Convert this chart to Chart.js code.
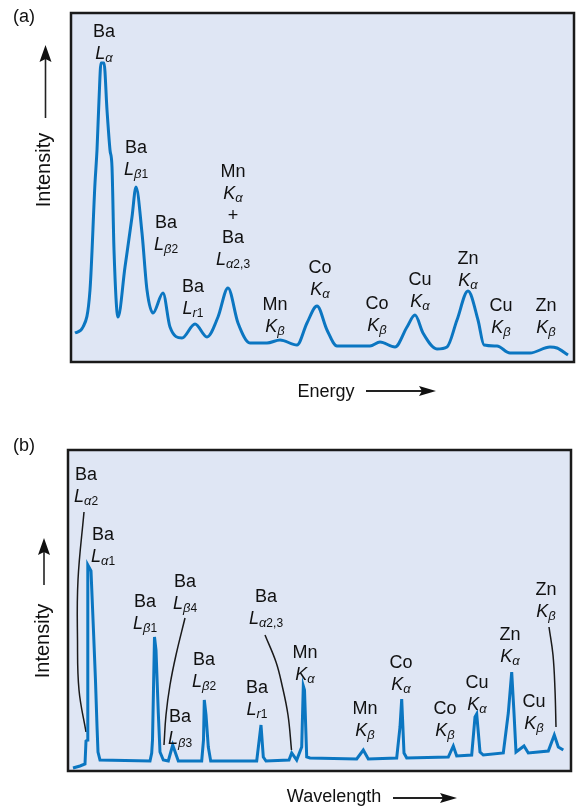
<!DOCTYPE html>
<html>
<head>
<meta charset="utf-8">
<script src="https://cdn.jsdelivr.net/npm/chart.js@4.4.0/dist/chart.umd.min.js"></script>
<style>
body{margin:0;background:#fff;width:582px;height:808px;overflow:hidden;position:relative}
canvas{position:absolute;left:0}
#chartA{top:0}
#chartB{top:420px}
</style>
</head>
<body>
<canvas id="chartA" width="582" height="410"></canvas>
<canvas id="chartB" width="582" height="388"></canvas>
<script>
// (a) energy spectrum (arbitrary units)
const energyX=[4,12,19,24,26,28,30,33,36,39,41,43,47,54,61,65,71,76,82,92,99,111,124,136,147,157,167,179,196,209,226,236,246,256,266,299,309,324,336,344,352,366,376,386,397,407,413,426,439,459,479,486,497];
const energyY=[29,35,72,179,212,262,299,299,252,212,195,112,45,95,145,175,129,72,49,69,35,24,38,25,45,74,39,19,19,22,17,39,56,32,16,16,20,15,35,47,29,13,15,42,71,42,17,16,9,9,15,14,7];

// (b) wavelength spectrum
const waveX=[5,12,17,18,19.5,19.8,23,25.5,27.5,29,30,32,82,83.7,84.5,86.5,88,90.3,92,95.3,100.3,104.7,110.3,133.7,135.5,136.3,138,140.3,142.7,188.7,193,195.3,198,221,223.7,228.7,233.7,235.3,236.5,238.7,242,288.7,295.3,300.3,328.7,332,333.7,336,338.7,380.3,385.3,388.7,403.7,407,408.7,412,415.3,435.3,440.3,443.7,446,448,456,460.3,480.3,486.3,490.3,495.3];
const waveY=[3,5,7,30,31,206,200,140,90,45,19,11,10,18,31,134,121,58,19,11,10,26,10,10,31,71,56,24,10,10,46,14,10,11,18,11,24,85,81,14,13,12,21,12,13,44,72,18,13,14,25,15,16,54,57,19,16,18,58,99,58,19,25,18,20,36,24,21];

// peak labels
const labelsA=[['Ba','L_α'],['Ba','L_β1'],['Ba','L_β2'],['Ba','L_r1'],['Mn','K_α','+','Ba','L_α2,3'],['Mn','K_β'],['Co','K_α'],['Co','K_β'],['Cu','K_α'],['Zn','K_α'],['Cu','K_β'],['Zn','K_β']];
const labelAtA=[[33,325],[65,209],[95,134],[122,70],[162,185],[204,52],[249,89],[306,53],[349,77],[397,98],[430,51],[475,51]];
const labelsB=[['Ba','L_α2'],['Ba','L_α1'],['Ba','L_β1'],['Ba','L_β4'],['Ba','L_β3'],['Ba','L_β2'],['Ba','L_α2,3'],['Ba','L_r1'],['Mn','K_α'],['Mn','K_β'],['Co','K_α'],['Co','K_β'],['Cu','K_α'],['Zn','K_α'],['Cu','K_β'],['Zn','K_β']];
const labelAtB=[[18,291],[35,231],[77,164],[117,184],[112,49],[136,106],[198,169],[189,78],[237,113],[297,57],[333,103],[377,57],[409,83],[442,131],[466,64],[478,176]];

// leader lines in (b)
const leaderLa2=[[16,259],[10,191],[9.5,131],[11,81],[18,39]];
const leaderLb4=[[117,153],[108,116],[102,86],[98,56],[96,26]];
const leaderLa23=[[197,136],[208,109],[214,86],[220,56],[223.5,21]];
const leaderZnKb=[[481,144],[485,116],[487,81],[488,44]];

const BLUE='#0b76c1';
const FONT='"Liberation Sans", Arial, sans-serif';

function drawLabel(ctx,lines,cx,cy,gap){
  ctx.fillStyle='#111';
  ctx.textBaseline='alphabetic';
  lines.forEach((t,i)=>{
    const y=cy+i*gap;
    if(t.includes('_')){
      const [main,sub]=t.split('_');
      const g=sub[0], rest=sub.slice(1);
      ctx.font='italic 18px '+FONT; const w1=ctx.measureText(main).width;
      ctx.font='italic 13px '+FONT; const w2=ctx.measureText(g).width;
      ctx.font='12px '+FONT; const w3=ctx.measureText(rest).width;
      let x=cx-(w1+w2+w3)/2;
      ctx.textAlign='left';
      ctx.font='italic 18px '+FONT; ctx.fillText(main,x,y); x+=w1;
      ctx.font='italic 13px '+FONT; ctx.fillText(g,x,y+3); x+=w2;
      ctx.font='12px '+FONT; ctx.fillText(rest,x,y+3);
    }else{
      ctx.textAlign='center';
      ctx.font='18px '+FONT;
      ctx.fillText(t,cx,y);
    }
  });
}

function decorPlugin(d){
  return {
    id:'decor',
    beforeDatasetsDraw(chart){
      const {ctx,chartArea:a}=chart;
      ctx.save();
      ctx.fillStyle='#dfe6f4';
      ctx.fillRect(a.left,a.top,a.right-a.left,a.bottom-a.top);
      ctx.restore();
    },
    afterDraw(chart){
      const {ctx,chartArea:a,scales}=chart;
      ctx.save();
      ctx.strokeStyle='#1a1a1a';
      ctx.lineWidth=2.5;
      ctx.strokeRect(a.left,a.top,a.right-a.left,a.bottom-a.top);
      d.labels.forEach((l,i)=>{
        drawLabel(ctx,l,scales.x.getPixelForValue(d.at[i][0]),scales.y.getPixelForValue(d.at[i][1]),22);
      });
      ctx.fillStyle='#111';
      ctx.font='18px '+FONT;
      ctx.textAlign='center';ctx.textBaseline='middle';
      ctx.fillText(d.tag,d.tagX,d.tagY);
      // vertical intensity arrow
      ctx.strokeStyle='#222';ctx.lineWidth=1.6;
      ctx.beginPath();ctx.moveTo(d.vx,d.vTop+14);ctx.lineTo(d.vx,d.vEnd);ctx.stroke();
      ctx.beginPath();ctx.moveTo(d.vx,d.vTop);ctx.lineTo(d.vx-6,d.vTop+17);ctx.lineTo(d.vx,d.vTop+14);ctx.lineTo(d.vx+6,d.vTop+17);ctx.closePath();ctx.fill();
      ctx.save();
      ctx.translate(d.ix,d.iy);ctx.rotate(-Math.PI/2);
      ctx.font='20px '+FONT;ctx.fillText('Intensity',0,0);
      ctx.restore();
      // horizontal axis title + arrow
      ctx.textBaseline='alphabetic';
      ctx.font='18px '+FONT;
      ctx.fillText(d.title,d.tx,d.ty);
      ctx.lineWidth=2.2;
      ctx.beginPath();ctx.moveTo(d.hx0,d.hy);ctx.lineTo(d.hx1-10,d.hy);ctx.stroke();
      ctx.beginPath();ctx.moveTo(d.hx1,d.hy);ctx.lineTo(d.hx1-17,d.hy-5);ctx.lineTo(d.hx1-14,d.hy);ctx.lineTo(d.hx1-17,d.hy+5);ctx.closePath();ctx.fill();
      ctx.restore();
    }
  };
}

function pts(xs,ys){return xs.map((x,i)=>({x:x,y:ys[i]}));}
function leader(p){
  return {data:p.map(q=>({x:q[0],y:q[1]})),borderColor:'#1a1a1a',borderWidth:1.5,pointRadius:0,tension:0.4,fill:false};
}

function makeChart(id,datasets,xMax,yMax,pad,decor){
  return new Chart(document.getElementById(id),{
    type:'line',
    data:{datasets:datasets},
    options:{
      responsive:false,animation:false,
      layout:{padding:pad},
      plugins:{legend:{display:false},tooltip:{enabled:false}},
      scales:{
        x:{type:'linear',min:0,max:xMax,display:false},
        y:{type:'linear',min:0,max:yMax,display:false}
      }
    },
    plugins:[decorPlugin(decor)]
  });
}

makeChart('chartA',[
  {data:pts(energyX,energyY),borderColor:BLUE,borderWidth:3,pointRadius:0,cubicInterpolationMode:'monotone',fill:false}
],503,349,{left:71,right:8,top:13,bottom:48},{
  labels:labelsA,at:labelAtA,tag:'(a)',tagX:24,tagY:17,
  vx:45.5,vTop:45,vEnd:118,ix:44,iy:170,
  title:'Energy',tx:326,ty:397,hx0:366,hx1:436,hy:391
});

makeChart('chartB',[
  {data:pts(waveX,waveY),borderColor:BLUE,borderWidth:3,pointRadius:0,tension:0,fill:false},
  leader(leaderLa2),leader(leaderLb4),leader(leaderLa23),leader(leaderZnKb)
],503,321,{left:68,right:11,top:30,bottom:37},{
  labels:labelsB,at:labelAtB,tag:'(b)',tagX:24,tagY:26,
  vx:44,vTop:118,vEnd:165,ix:43,iy:221,
  title:'Wavelength',tx:334,ty:382,hx0:393,hx1:457,hy:378
});
</script>
</body>
</html>
